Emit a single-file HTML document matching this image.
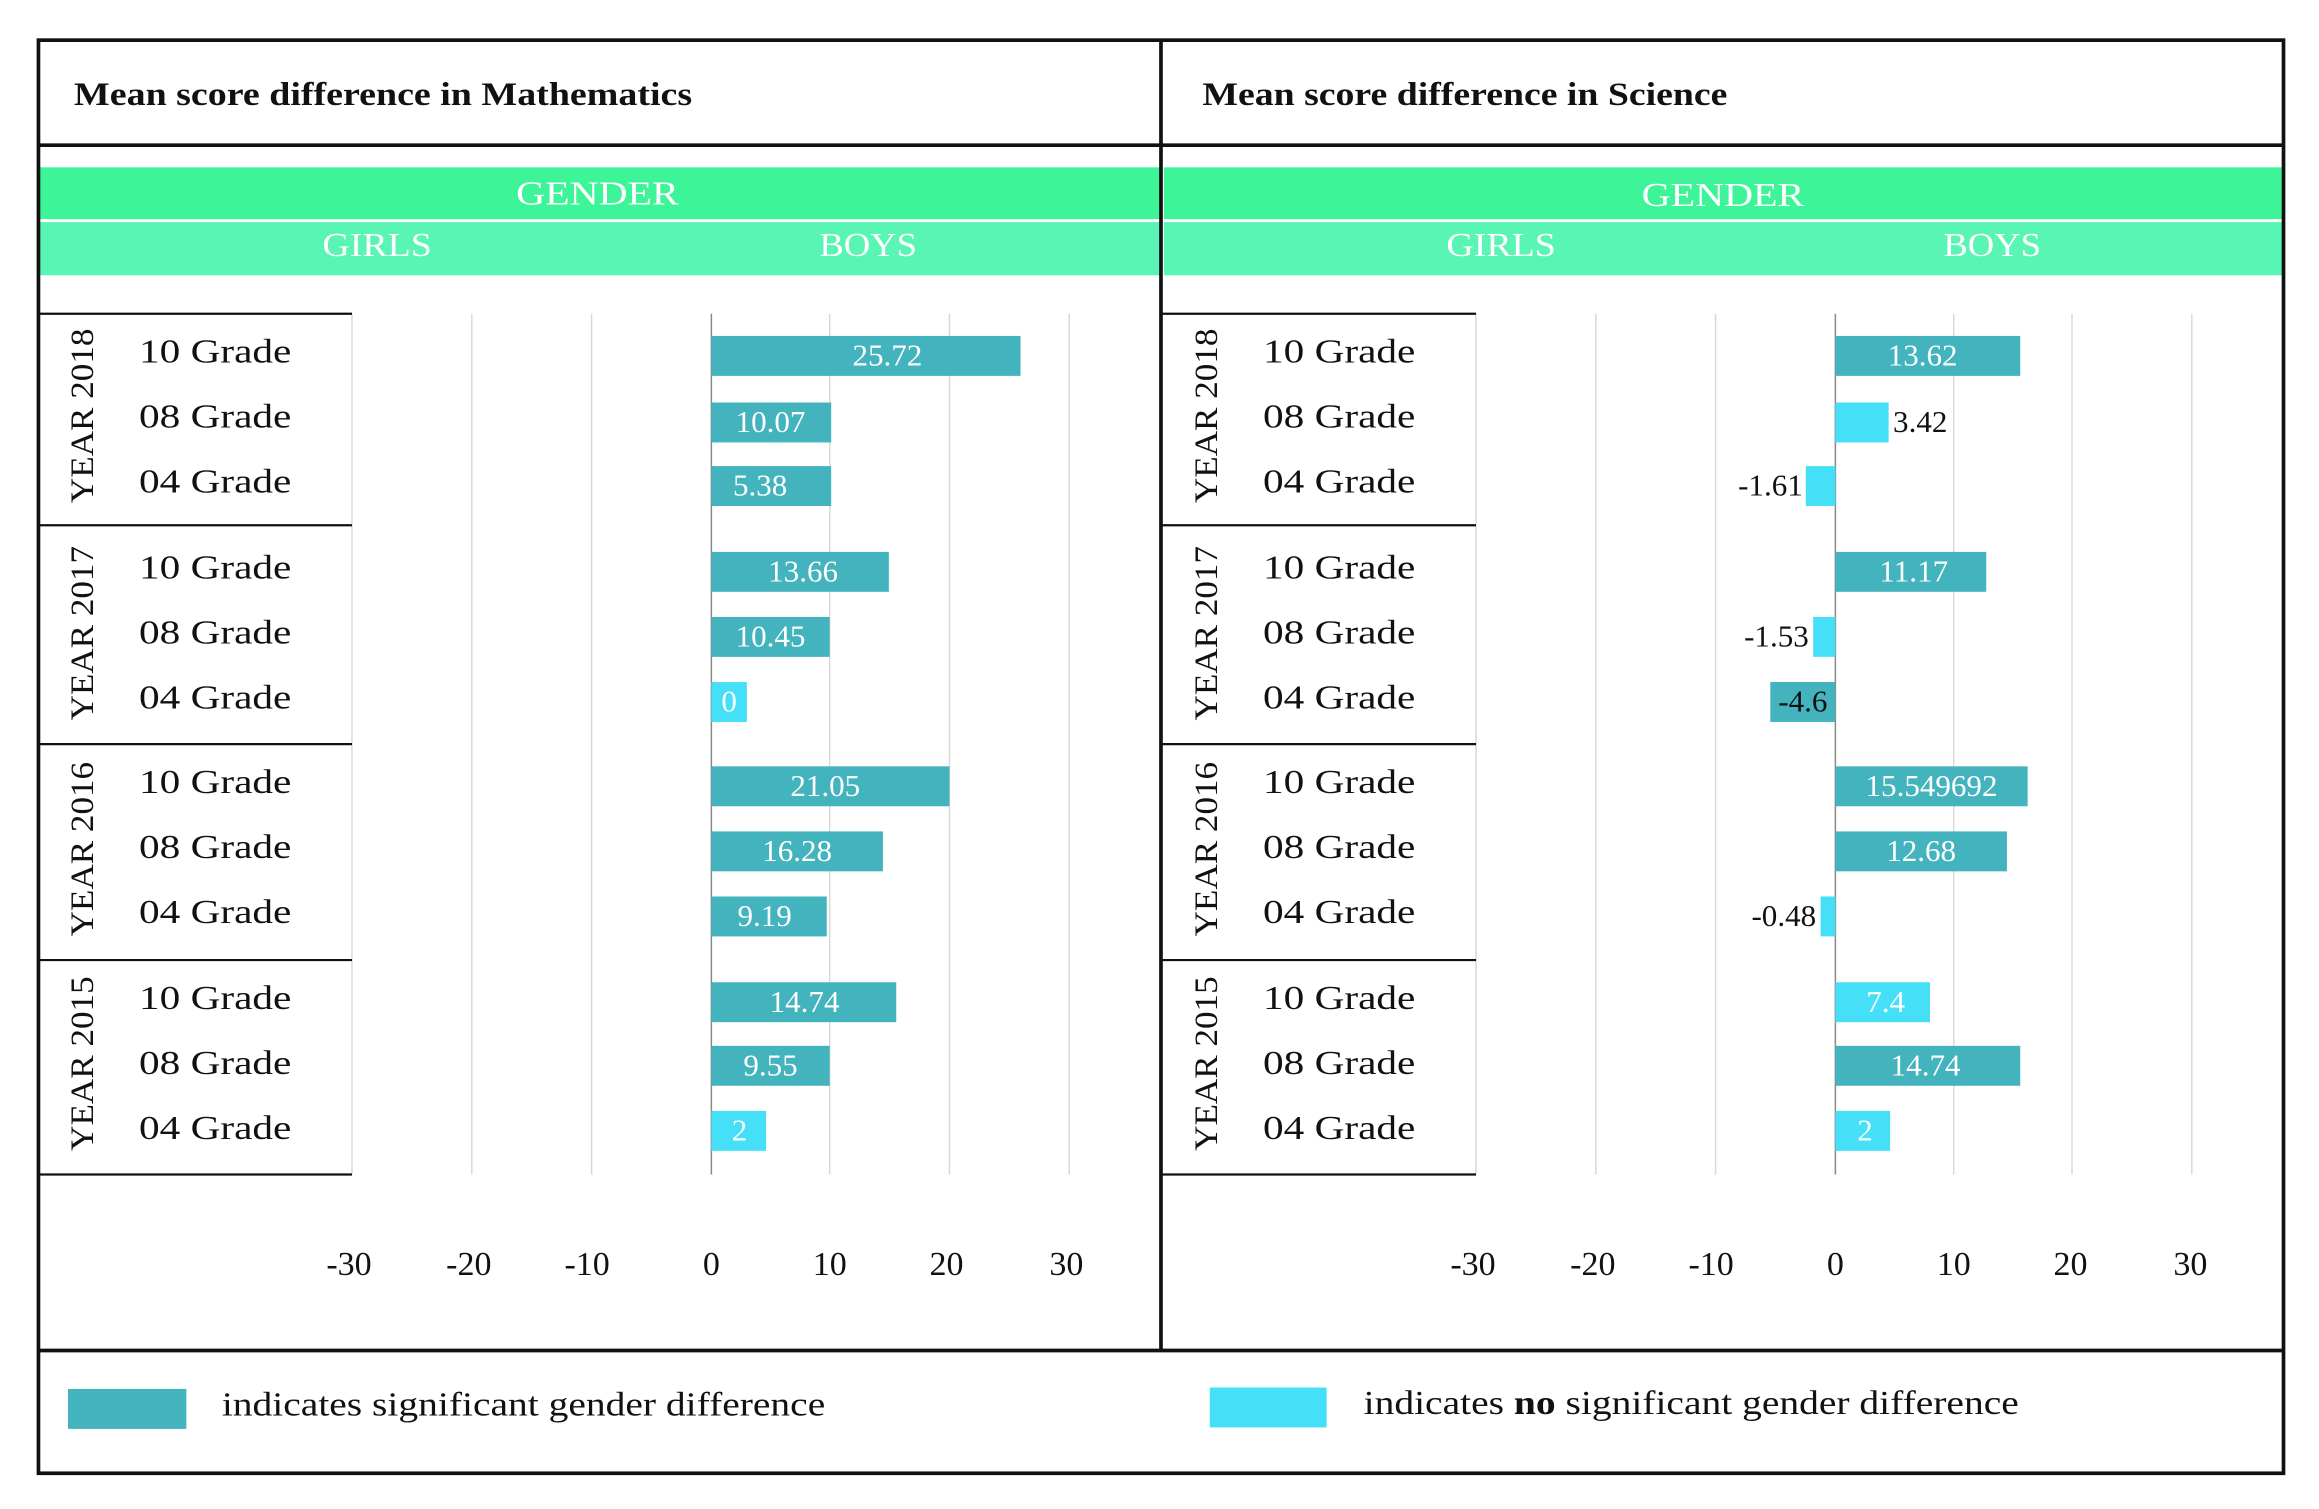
<!DOCTYPE html>
<html><head><meta charset="utf-8"><style>
html,body{margin:0;padding:0;background:#fff;}
svg{display:block;}
text{font-family:"Liberation Serif",serif;}
</style></head><body>
<svg width="2319" height="1509" viewBox="0 0 1568 1020" xmlns="http://www.w3.org/2000/svg">
<rect x="0" y="0" width="1568" height="1020" fill="#fff"/>
<rect x="27" y="113" width="757" height="35" fill="#3df598"/>
<rect x="27" y="150" width="757" height="36" fill="#58f5b4"/>
<rect x="787" y="113" width="756" height="35" fill="#3df598"/>
<rect x="787" y="150" width="756" height="36" fill="#58f5b4"/>
<g fill="#fff" font-size="23">
<text x="349" y="138" textLength="110" lengthAdjust="spacingAndGlyphs">GENDER</text>
<text x="218" y="173" textLength="74" lengthAdjust="spacingAndGlyphs">GIRLS</text>
<text x="554" y="173" textLength="66" lengthAdjust="spacingAndGlyphs">BOYS</text>
<text x="1110" y="139" textLength="110" lengthAdjust="spacingAndGlyphs">GENDER</text>
<text x="978" y="173" textLength="74" lengthAdjust="spacingAndGlyphs">GIRLS</text>
<text x="1314" y="173" textLength="66" lengthAdjust="spacingAndGlyphs">BOYS</text>
</g>
<g font-size="22" font-weight="bold" fill="#111">
<text x="50" y="71" textLength="418" lengthAdjust="spacingAndGlyphs">Mean score difference in Mathematics</text>
<text x="813" y="71" textLength="355" lengthAdjust="spacingAndGlyphs">Mean score difference in Science</text>
</g>
<g stroke="#d8d8d8" stroke-width="1">
<line x1="238" y1="212" x2="238" y2="794"/><line x1="319" y1="212" x2="319" y2="794"/><line x1="400" y1="212" x2="400" y2="794"/>
<line x1="561" y1="212" x2="561" y2="794"/><line x1="642" y1="212" x2="642" y2="794"/><line x1="723" y1="212" x2="723" y2="794"/>
<line x1="998" y1="212" x2="998" y2="794"/><line x1="1079" y1="212" x2="1079" y2="794"/><line x1="1160" y1="212" x2="1160" y2="794"/>
<line x1="1321" y1="212" x2="1321" y2="794"/><line x1="1401" y1="212" x2="1401" y2="794"/><line x1="1482" y1="212" x2="1482" y2="794"/>
</g>
<g stroke="#888" stroke-width="1"><line x1="481" y1="212" x2="481" y2="794"/><line x1="1241" y1="212" x2="1241" y2="794"/></g>
<g stroke="#111" stroke-width="1.5">
<line x1="26" y1="212" x2="238" y2="212"/><line x1="26" y1="355" x2="238" y2="355"/><line x1="26" y1="503" x2="238" y2="503"/><line x1="26" y1="649" x2="238" y2="649"/><line x1="26" y1="794" x2="238" y2="794"/>
<line x1="786" y1="212" x2="998" y2="212"/><line x1="786" y1="355" x2="998" y2="355"/><line x1="786" y1="503" x2="998" y2="503"/><line x1="786" y1="649" x2="998" y2="649"/><line x1="786" y1="794" x2="998" y2="794"/>
</g>
<g font-size="22" fill="#111">
<text transform="translate(63,340) rotate(-90)" textLength="118" lengthAdjust="spacingAndGlyphs">YEAR 2018</text>
<text transform="translate(63,487) rotate(-90)" textLength="118" lengthAdjust="spacingAndGlyphs">YEAR 2017</text>
<text transform="translate(63,633) rotate(-90)" textLength="118" lengthAdjust="spacingAndGlyphs">YEAR 2016</text>
<text transform="translate(63,778) rotate(-90)" textLength="118" lengthAdjust="spacingAndGlyphs">YEAR 2015</text>
<text transform="translate(823,340) rotate(-90)" textLength="118" lengthAdjust="spacingAndGlyphs">YEAR 2018</text>
<text transform="translate(823,487) rotate(-90)" textLength="118" lengthAdjust="spacingAndGlyphs">YEAR 2017</text>
<text transform="translate(823,633) rotate(-90)" textLength="118" lengthAdjust="spacingAndGlyphs">YEAR 2016</text>
<text transform="translate(823,778) rotate(-90)" textLength="118" lengthAdjust="spacingAndGlyphs">YEAR 2015</text>
</g>
<g font-size="23" fill="#111">
<text x="94" y="245" textLength="103" lengthAdjust="spacingAndGlyphs">10 Grade</text><text x="94" y="289" textLength="103" lengthAdjust="spacingAndGlyphs">08 Grade</text><text x="94" y="333" textLength="103" lengthAdjust="spacingAndGlyphs">04 Grade</text>
<text x="94" y="391" textLength="103" lengthAdjust="spacingAndGlyphs">10 Grade</text><text x="94" y="435" textLength="103" lengthAdjust="spacingAndGlyphs">08 Grade</text><text x="94" y="479" textLength="103" lengthAdjust="spacingAndGlyphs">04 Grade</text>
<text x="94" y="536" textLength="103" lengthAdjust="spacingAndGlyphs">10 Grade</text><text x="94" y="580" textLength="103" lengthAdjust="spacingAndGlyphs">08 Grade</text><text x="94" y="624" textLength="103" lengthAdjust="spacingAndGlyphs">04 Grade</text>
<text x="94" y="682" textLength="103" lengthAdjust="spacingAndGlyphs">10 Grade</text><text x="94" y="726" textLength="103" lengthAdjust="spacingAndGlyphs">08 Grade</text><text x="94" y="770" textLength="103" lengthAdjust="spacingAndGlyphs">04 Grade</text>
<text x="854" y="245" textLength="103" lengthAdjust="spacingAndGlyphs">10 Grade</text><text x="854" y="289" textLength="103" lengthAdjust="spacingAndGlyphs">08 Grade</text><text x="854" y="333" textLength="103" lengthAdjust="spacingAndGlyphs">04 Grade</text>
<text x="854" y="391" textLength="103" lengthAdjust="spacingAndGlyphs">10 Grade</text><text x="854" y="435" textLength="103" lengthAdjust="spacingAndGlyphs">08 Grade</text><text x="854" y="479" textLength="103" lengthAdjust="spacingAndGlyphs">04 Grade</text>
<text x="854" y="536" textLength="103" lengthAdjust="spacingAndGlyphs">10 Grade</text><text x="854" y="580" textLength="103" lengthAdjust="spacingAndGlyphs">08 Grade</text><text x="854" y="624" textLength="103" lengthAdjust="spacingAndGlyphs">04 Grade</text>
<text x="854" y="682" textLength="103" lengthAdjust="spacingAndGlyphs">10 Grade</text><text x="854" y="726" textLength="103" lengthAdjust="spacingAndGlyphs">08 Grade</text><text x="854" y="770" textLength="103" lengthAdjust="spacingAndGlyphs">04 Grade</text>
</g>
<g>
<rect x="481" y="227" width="209" height="27" fill="#43b3bd"/>
<rect x="481" y="272" width="81" height="27" fill="#43b3bd"/>
<rect x="481" y="315" width="81" height="27" fill="#43b3bd"/>
<rect x="481" y="373" width="120" height="27" fill="#43b3bd"/>
<rect x="481" y="417" width="80" height="27" fill="#43b3bd"/>
<rect x="481" y="461" width="24" height="27" fill="#45e0f8"/>
<rect x="481" y="518" width="161" height="27" fill="#43b3bd"/>
<rect x="481" y="562" width="116" height="27" fill="#43b3bd"/>
<rect x="481" y="606" width="78" height="27" fill="#43b3bd"/>
<rect x="481" y="664" width="125" height="27" fill="#43b3bd"/>
<rect x="481" y="707" width="80" height="27" fill="#43b3bd"/>
<rect x="481" y="751" width="37" height="27" fill="#45e0f8"/>
</g>
<g font-size="21" fill="#fff" text-anchor="middle">
<text x="600" y="247">25.72</text><text x="521" y="292">10.07</text><text x="514" y="335">5.38</text>
<text x="543" y="393">13.66</text><text x="521" y="437">10.45</text><text x="493" y="481">0</text>
<text x="558" y="538">21.05</text><text x="539" y="582">16.28</text><text x="517" y="626">9.19</text>
<text x="544" y="684">14.74</text><text x="521" y="727">9.55</text><text x="500" y="771">2</text>
</g>
<g>
<rect x="1241" y="227" width="125" height="27" fill="#43b3bd"/>
<rect x="1241" y="272" width="36" height="27" fill="#45e0f8"/>
<rect x="1221" y="315" width="20" height="27" fill="#45e0f8"/>
<rect x="1241" y="373" width="102" height="27" fill="#43b3bd"/>
<rect x="1226" y="417" width="15" height="27" fill="#45e0f8"/>
<rect x="1197" y="461" width="44" height="27" fill="#43b3bd"/>
<rect x="1241" y="518" width="130" height="27" fill="#43b3bd"/>
<rect x="1241" y="562" width="116" height="27" fill="#43b3bd"/>
<rect x="1231" y="606" width="10" height="27" fill="#45e0f8"/>
<rect x="1241" y="664" width="64" height="27" fill="#45e0f8"/>
<rect x="1241" y="707" width="125" height="27" fill="#43b3bd"/>
<rect x="1241" y="751" width="37" height="27" fill="#45e0f8"/>
</g>
<g font-size="21" fill="#fff" text-anchor="middle">
<text x="1300" y="247">13.62</text><text x="1294" y="393">11.17</text>
<text x="1306" y="538">15.549692</text><text x="1299" y="582">12.68</text>
<text x="1275" y="684">7.4</text><text x="1302" y="727">14.74</text><text x="1261" y="771">2</text>
</g>
<g font-size="21" fill="#111">
<text x="1280" y="292">3.42</text>
<text x="1219" y="335" text-anchor="end">-1.61</text>
<text x="1223" y="437" text-anchor="end">-1.53</text>
<text x="1219" y="481" text-anchor="middle">-4.6</text>
<text x="1228" y="626" text-anchor="end">-0.48</text>
</g>
<g font-size="23" fill="#111" text-anchor="middle">
<text x="236" y="862">-30</text><text x="317" y="862">-20</text><text x="397" y="862">-10</text><text x="481" y="862">0</text><text x="561" y="862">10</text><text x="640" y="862">20</text><text x="721" y="862">30</text>
<text x="996" y="862">-30</text><text x="1077" y="862">-20</text><text x="1157" y="862">-10</text><text x="1241" y="862">0</text><text x="1321" y="862">10</text><text x="1400" y="862">20</text><text x="1481" y="862">30</text>
</g>
<rect x="46" y="939" width="80" height="27" fill="#43b3bd"/>
<rect x="818" y="938" width="79" height="27" fill="#45e0f8"/>
<g font-size="23" fill="#111">
<text x="150" y="957" textLength="408" lengthAdjust="spacingAndGlyphs">indicates significant gender difference</text>
<text x="922" y="956" textLength="443" lengthAdjust="spacingAndGlyphs">indicates <tspan font-weight="bold">no</tspan> significant gender difference</text>
</g>
<g stroke="#111" fill="none" stroke-width="2.5">
<rect x="26" y="27" width="1518" height="969"/>
<line x1="785" y1="27" x2="785" y2="913"/>
<line x1="26" y1="98" x2="1544" y2="98"/>
<line x1="26" y1="913" x2="1544" y2="913"/>
</g>
</svg>
</body></html>
